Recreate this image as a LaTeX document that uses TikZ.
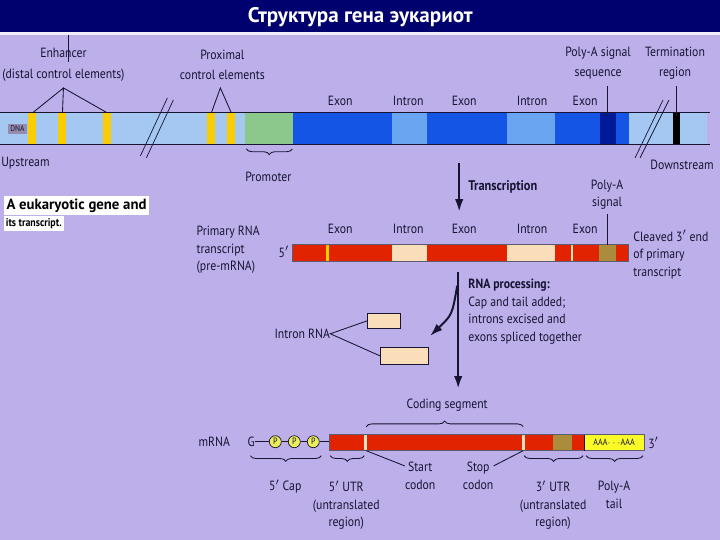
\documentclass[tikz,border=0pt]{standalone}
\usepackage{fontspec}
\setmainfont{PT Sans}[FakeStretch=0.88]
\newfontfamily\titlefont{PT Sans}
\usetikzlibrary{decorations.pathreplacing,arrows.meta}
\definecolor{bg}{RGB}{188,175,234}
\definecolor{titlebar}{RGB}{0,0,110}
\definecolor{ink}{RGB}{22,20,50}
\definecolor{dnalight}{RGB}{165,200,242}
\definecolor{exonblue}{RGB}{20,85,230}
\definecolor{intronblue}{RGB}{105,165,240}
\definecolor{signalblue}{RGB}{0,25,150}
\definecolor{promgreen}{RGB}{140,200,140}
\definecolor{ctrlyellow}{RGB}{250,205,0}
\definecolor{rnared}{RGB}{225,35,0}
\definecolor{intronbeige}{RGB}{250,222,185}
\definecolor{signalolive}{RGB}{170,140,60}
\definecolor{tailyellow}{RGB}{250,250,40}
\definecolor{capyellow}{RGB}{235,240,90}
\definecolor{tagcol}{RGB}{150,140,175}
\tikzset{
  lbl/.style={font=\fontsize{9.5}{12.5}\selectfont,text=ink,inner sep=0pt,align=center},
  toplbl/.style={lbl,font=\fontsize{9.5}{14.5}\selectfont},
  boldlbl/.style={font=\fontsize{10}{12}\selectfont\bfseries,text=ink,inner sep=0pt},
  lead/.style={draw=ink,line width=0.6pt},
  brc/.style={draw=ink,line width=0.6pt,decorate,decoration={brace,amplitude=4pt}},
  procarrow/.style={draw=ink,line width=1.6pt,-{Latex[length=9pt,width=6pt]}},
}
\begin{document}
\begin{tikzpicture}[x=0.025cm,y=-0.025cm]
  % background and title
  \fill[bg] (0,0) rectangle (720,540);
  \fill[titlebar] (0,0) rectangle (720,32);
  \fill[white!75!bg] (0,32) rectangle (720,35);
  \node[font=\titlefont\fontsize{15}{16}\selectfont\bfseries,text=white] (title) at (360,17) {Структура гена эукариот};
  \draw[ink,line width=0.5pt] (68,35) -- (68,62);

  % DNA
  \foreach \a/\b/\c in {0/245/dnalight,245/293/promgreen,293/392/exonblue,392/427/intronblue,
      427/507/exonblue,507/555/intronblue,555/600/exonblue,600/616/signalblue,
      616/629/exonblue,629/707/dnalight,673/680/black}
    \fill[\c] (\a,113) rectangle (\b,145);
  \foreach \x [count=\i] in {28,58,103,207,227} {
    \fill[ctrlyellow] (\x,113) rectangle +(8,32);
    \coordinate (ctl\i) at (\x+4,113);
  }
  \draw[ink,line width=0.7pt] (0,113) -- (710,113) (0,145) -- (710,145);
  \draw[ink,line width=0.5pt] (140,156) -- (167,98) (146,158) -- (173,100);
  \draw[ink,line width=0.5pt] (635,158) -- (663,100) (640,158) -- (669,100);
  \node[fill=tagcol,font=\fontsize{6}{7}\selectfont,text=ink,inner sep=1.5pt] (dnatag) at (17,129) {DNA};

  \node[toplbl] (enh) at (63,65) {Enhancer\\(distal control elements)};
  \coordinate (enhtip) at (63,88);
  \draw[lead] (ctl1) -- (enhtip) -- (ctl2) (enhtip) -- (ctl3);
  \node[toplbl] (prox) at (222,65) {Proximal\\control elements};
  \coordinate (proxtip) at (220,88);
  \draw[lead] (ctl4) -- (proxtip) -- (ctl5);
  \node[toplbl] (polysig) at (598,63) {Poly-A signal\\sequence};
  \coordinate (polysigtop) at (607,86);
  \coordinate (polysigbar) at (607,116);
  \draw[lead] (polysigtop) -- (polysigbar);
  \node[toplbl] (term) at (675,63) {Termination\\region};
  \coordinate (termtop) at (676,86);
  \coordinate (termbar) at (676,116);
  \draw[lead] (termtop) -- (termbar);
  \foreach \x/\t [count=\i] in {340/Exon,408/Intron,464/Exon,532/Intron,585/Exon}
    \node[lbl] (dnaseg\i) at (\x,101) {\t};

  \draw[brc] (292,149) -- (246,149);
  \node[lbl] (prom) at (268,177) {Promoter};
  \node[lbl] (up) at (25,163) {Upstream};
  \node[lbl] (down) at (682,165) {Downstream};

  % caption
  \node[fill=white,anchor=west,font=\titlefont\fontsize{10.5}{12}\selectfont\bfseries,inner sep=2pt] (capt1) at (3,206) {A eukaryotic gene and};
  \node[fill=white,anchor=north west,font=\fontsize{8}{10}\selectfont\bfseries,inner sep=1.5pt] (capt2) at (capt1.south west) {its transcript.};

  % transcription
  \coordinate (tr0) at (459,163);
  \coordinate (tr1) at (459,212);
  \draw[procarrow] (tr0) -- (tr1);
  \node[boldlbl,anchor=west] (trlbl) at (468,187) {Transcription};

  % primary transcript
  \foreach \a/\b/\c in {292/392/rnared,392/427/intronbeige,427/507/rnared,507/555/intronbeige,
      555/599/rnared,599/616/signalolive,616/628/rnared}
    \fill[\c] (\a,244) rectangle (\b,261);
  \fill[ctrlyellow] (326,244) rectangle (329,261);
  \fill[intronbeige] (571,244) rectangle (573,261);
  \draw[ink!70,line width=0.4pt] (292,244) rectangle (628,261);
  \node[lbl,anchor=east] (five) at (289,252) {5$'$};
  \foreach \x/\t [count=\i] in {340/Exon,408/Intron,464/Exon,532/Intron,585/Exon}
    \node[lbl] (rnaseg\i) at (\x,229) {\t};
  \node[lbl] (polyrna) at (607,195) {Poly-A\\signal};
  \coordinate (polyrnatop) at (607,214);
  \coordinate (polyrnabar) at (607,245);
  \draw[lead] (polyrnatop) -- (polyrnabar);
  \node[lbl,align=left,anchor=west] (prim) at (196,250) {Primary RNA\\transcript\\(pre-mRNA)};
  \node[lbl,align=left,anchor=west] (cleav) at (633,255) {Cleaved 3$'$ end\\of primary\\transcript};

  % RNA processing
  \coordinate (pr0) at (458,272);
  \coordinate (pr1) at (458,389);
  \draw[procarrow] (pr0) -- (pr1);
  \coordinate (cv0) at (457,286);
  \coordinate (cv1) at (430,336);
  \draw[procarrow,line width=1.4pt] (cv0) .. controls (452,315) .. (cv1);
  \node[lbl,align=left,anchor=north west] (proclbl) at (468,279)
    {\textbf{RNA processing:}\\Cap and tail added;\\introns excised and\\exons spliced together};
  \node[draw=ink,fill=intronbeige,line width=0.6pt,minimum width=0.825cm,minimum height=0.375cm,inner sep=0pt] (ibox1) at (384,321) {};
  \node[draw=ink,fill=intronbeige,line width=0.6pt,minimum width=1.2cm,minimum height=0.425cm,inner sep=0pt] (ibox2) at (404,356) {};
  \node[lbl,anchor=east] (intronlbl) at (330,334) {Intron RNA};
  \draw[lead] (ibox1.west) -- (intronlbl.east) -- (ibox2.west);

  % mRNA
  \foreach \a/\b/\c in {329/553/rnared,553/572/signalolive,572/584/rnared,584/644/tailyellow}
    \fill[\c] (\a,435) rectangle (\b,451);
  \fill[intronbeige] (364,435) rectangle (367,451);
  \fill[intronbeige] (522,435) rectangle (525,451);
  \draw[ink!70,line width=0.4pt] (329,435) rectangle (644,451);
  \draw[ink,line width=0.6pt] (584,435) -- (584,451);
  \node[font=\fontsize{6.5}{7}\selectfont,text=ink] (tail) at (614,443) {AAA$\cdots$AAA};
  \node[lbl,anchor=west] (three) at (648,443) {3$'$};
  \node[lbl] (mrnalbl) at (214,442) {mRNA};
  \node[lbl] (gcap) at (251,442) {G};
  \foreach \x [count=\i] in {275,294,313}
    \node[circle,draw=ink,fill=capyellow,line width=0.5pt,inner sep=0pt,minimum size=0.3cm,
      font=\fontsize{6.5}{7}\selectfont,text=ink] (p\i) at (\x,442) {P};
  \coordinate (mrna5) at (329,442);
  \draw[lead] (gcap) -- (p1) -- (p2) -- (p3) -- (mrna5);

  \draw[brc] (366,427) -- (523,427);
  \node[lbl] (coding) at (447,405) {Coding segment};
  \draw[brc] (321,456) -- (250,456);
  \node[lbl] (caplbl) at (285,487) {5$'$ Cap};
  \draw[brc] (364,456) -- (330,456);
  \node[lbl,anchor=north] (utr5) at (346,481) {5$'$ UTR\\(untranslated\\region)};
  \draw[brc] (583,456) -- (524,456);
  \node[lbl,anchor=north] (utr3) at (553,481) {3$'$ UTR\\(untranslated\\region)};
  \draw[brc] (643,456) -- (586,456);
  \node[lbl,anchor=north] (taillbl) at (614,481) {Poly-A\\tail};
  \coordinate (startc) at (366,451);
  \coordinate (stopc) at (523,451);
  \node[lbl,anchor=north] (startlbl) at (420,462) {Start\\codon};
  \node[lbl,anchor=north] (stoplbl) at (478,462) {Stop\\codon};
  \draw[lead] (startc) -- ([yshift=-3pt]startlbl.north west);
  \draw[lead] (stopc) -- ([yshift=-3pt]stoplbl.north east);
\end{tikzpicture}
\end{document}
